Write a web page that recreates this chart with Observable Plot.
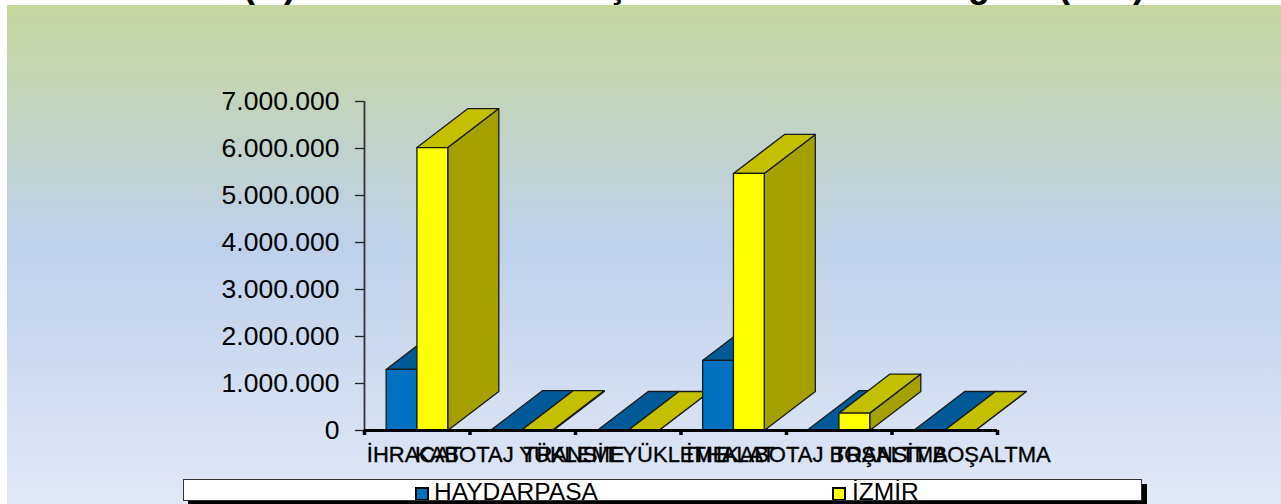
<!DOCTYPE html>
<html><head><meta charset="utf-8">
<script src="https://cdn.jsdelivr.net/npm/d3@7"></script>
<script src="https://cdn.jsdelivr.net/npm/@observablehq/plot@0.6"></script>
<style>
html,body{margin:0;padding:0;background:#fff;overflow:hidden}
#page{position:relative;width:1281px;height:504px;overflow:hidden;font-family:"Liberation Sans",Arial,sans-serif;color:#000}
#bg{position:absolute;left:7px;top:5px;right:0;bottom:0;background:linear-gradient(180deg,#c5d69e 0%,#bfd0ea 48%,#e1e8f5 100%)}
#titleclip{position:absolute;left:0;top:0;width:1281px;height:5px;overflow:hidden}
#titleclip span{position:absolute;font-weight:bold;font-size:36px;line-height:36px;bottom:2px}
#legend{position:absolute;left:183px;top:479px;width:957px;height:20px;background:#fff;border:1px solid #333;box-shadow:5px 5px 0 #000;overflow:hidden}
#legend span{position:absolute;font-size:24.5px;line-height:24px;top:0px}
#legend i{position:absolute;top:7px;width:10px;height:10px;border:2px solid #000}
#chart{position:absolute;left:0;top:0}
#chart svg{background:transparent;overflow:visible}
</style></head><body>
<div id="page"><div id="bg"></div><div id="titleclip"></div><div id="chart"></div><div id="legend"></div></div>
<script>
const categories = ["İHRACAT","KABOTAJ YÜKLEME","TRANSİT YÜKLEME","İTHALAT","KABOTAJ BOŞALTMA","TRANSİT BOŞALTMA"];
const haydarpasa = [1300000,20000,0,1490000,20000,0];
const izmir = [6020000,20000,0,5470000,370000,0];
const yTicks = [0,1000000,2000000,3000000,4000000,5000000,6000000,7000000];
const seriesNames = ["HAYDARPASA","İZMİR"];
const titleFragments = ["(",")","ç","g","(",")"];

const palette = [
  {front:"#0070c0",top:"#005a98",side:"#004f86"},
  {front:"#ffff00",top:"#c4c000",side:"#a3a000"}
];
const barW = 0.292, barGap = 0.205, depthX = 0.484, depthY = 830000;
const faces = [];
categories.forEach((c,i)=>{
  [haydarpasa,izmir].forEach((vals,s)=>{
    const v = vals[i], a = i+barGap+s*barW, b = a+barW, id = i+"-"+s, col = palette[s];
    const poly = (name,fill,pts)=>pts.forEach(([x,y])=>faces.push({z:id+name,x,y,fill}));
    poly("side",col.side,[[b,0],[b+depthX,depthY],[b+depthX,v+depthY],[b,v]]);
    poly("top",col.top,[[a,v],[a+depthX,v+depthY],[b+depthX,v+depthY],[b,v]]);
    if (v>0) poly("front",col.front,[[a,0],[a,v],[b,v],[b,0]]);
  });
});
const fmt = d3.formatLocale({decimal:",",thousands:".",grouping:[3],currency:["",""]}).format(",");

const chart = Plot.plot({
  width:1281,height:504,
  marginTop:0,marginBottom:0,marginLeft:0,marginRight:0,
  x:{type:"linear",domain:[0,6],range:[364,997],axis:null},
  y:{type:"linear",domain:[0,7000000],range:[430,101],axis:null},
  style:{background:"transparent",fontFamily:"'Liberation Sans',Arial,sans-serif",color:"#000"},
  marks:[
    Plot.line(faces,{x:"x",y:"y",z:"z",fill:"fill",stroke:"#1a1a1a",strokeWidth:1.3,curve:"linear-closed"}),
    Plot.ruleX([0],{y1:0,y2:7000000,stroke:"#333",strokeWidth:1.8}),
    Plot.axisY({ticks:yTicks,anchor:"left",x:0,tickSize:9,tickPadding:16,tickFormat:fmt,fontSize:26.5,fill:"#000",stroke:"#222",strokeWidth:1.3,label:null}),
    Plot.ruleY([0],{x1:0,x2:6,stroke:"#000",strokeWidth:3}),
    Plot.axisX({ticks:[0,1,2,3,4,5,6],anchor:"bottom",y:0,tickSize:5,tickFormat:()=>"",stroke:"#000",strokeWidth:3.5,label:null}),
    Plot.text(categories,{x:(d,i)=>i+0.5,y:()=>0,text:d=>d,dx:-3,dy:24,fontSize:22,fill:"#000",stroke:"#000",strokeWidth:0.35,lineAnchor:"middle"})
  ]
});
document.getElementById("chart").append(chart);

const tc = document.getElementById("titleclip");
[243,284,607,968,1058,1133].forEach((left,i)=>{
  const s=document.createElement("span"); s.textContent=titleFragments[i]; s.style.left=left+"px"; tc.append(s);
});
const lg = document.getElementById("legend");
[[231,"#0070c0",250],[648,"#ffff00",668]].forEach(([sx,col,tx],i)=>{
  const sw=document.createElement("i"); sw.style.left=sx+"px"; sw.style.background=col; lg.append(sw);
  const t=document.createElement("span"); t.textContent=seriesNames[i]; t.style.left=tx+"px"; lg.append(t);
});
</script>
</body></html>
